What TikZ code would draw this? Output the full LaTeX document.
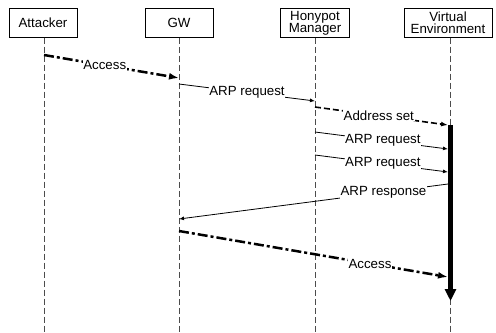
\documentclass[tikz,border=0pt]{standalone}
\usepackage{fontspec}
\setmainfont{Liberation Sans}
\usetikzlibrary{arrows.meta}
\begin{document}
\begin{tikzpicture}[x=1bp,y=-1bp,
  actor/.style={draw,line width=0.9bp,minimum height=29bp,inner sep=1bp,align=center,
    font=\fontsize{13.3bp}{12bp}\selectfont},
  lifeline/.style={draw=black!70,line width=0.7bp,dash pattern=on 6bp off 3bp},
  thinmsg/.style={line width=0.8bp,-{Latex[length=5bp,width=4bp]}},
  dashmsg/.style={line width=1.6bp,dash pattern=on 6bp off 3bp,-{Latex[length=7bp,width=5bp]}},
  accmsg/.style={line width=2.5bp,dash pattern=on 10bp off 3bp on 3bp off 3bp,-{Latex[length=10bp,width=7bp]}},
  lbl/.style={fill=white,inner sep=0.6bp,font=\fontsize{13.3bp}{14bp}\selectfont}]
\useasboundingbox (0,0) rectangle (496,332);
% actors
\node[actor,minimum width=68bp] (att) at (43,23) {Attacker};
\node[actor,minimum width=68bp] (gw) at (179,23) {GW};
\node[actor,minimum width=69bp] (hm) at (315,23) {Honypot\\Manager};
\node[actor,minimum width=88bp] (ve) at (448,23) {Virtual\\Environment};
% lifeline ends
\coordinate (attE) at (44,332);
\coordinate (gwE) at (179,332);
\coordinate (hmE) at (315,332);
\coordinate (veE) at (450,332);
\draw[lifeline] (44,37.5) -- (attE);
\draw[lifeline] (gw.south) -- (gwE);
\draw[lifeline] (hm.south) -- (hmE);
\draw[lifeline] (450,37.5) -- (veE);
% message points
\coordinate (m1s) at (44,55);   \coordinate (m1e) at (179,78);
\coordinate (m2s) at (179,84);  \coordinate (m2e) at (315,101);
\coordinate (m3s) at (315,107); \coordinate (m3e) at (448,125);
\coordinate (m4s) at (315,132); \coordinate (m4e) at (448,149);
\coordinate (m5s) at (315,155); \coordinate (m5e) at (448,172);
\coordinate (m6s) at (448,184); \coordinate (m6e) at (179,219);
\coordinate (m7s) at (179,231); \coordinate (m7e) at (448,277);
\coordinate (bar1) at (450.5,125); \coordinate (bar2) at (450.5,301);
% activation bar
\draw[line width=5bp,-{Triangle[length=12bp,width=11bp]}] (bar1) -- (bar2);
% messages
\draw[accmsg] (m1s) -- node[lbl,pos=0.45] {Access} (m1e);
\draw[thinmsg] (m2s) -- node[lbl,pos=0.5] {ARP request} (m2e);
\draw[dashmsg] (m3s) -- node[lbl,pos=0.48] {Address set} (m3e);
\draw[thinmsg] (m4s) -- node[lbl,pos=0.51] {ARP request} (m4e);
\draw[thinmsg] (m5s) -- node[lbl,pos=0.51] {ARP request} (m5e);
\draw[thinmsg] (m6s) -- node[lbl,pos=0.24] {ARP response} (m6e);
\draw[accmsg] (m7s) -- node[lbl,pos=0.71] {Access} (m7e);
\end{tikzpicture}
\end{document}
